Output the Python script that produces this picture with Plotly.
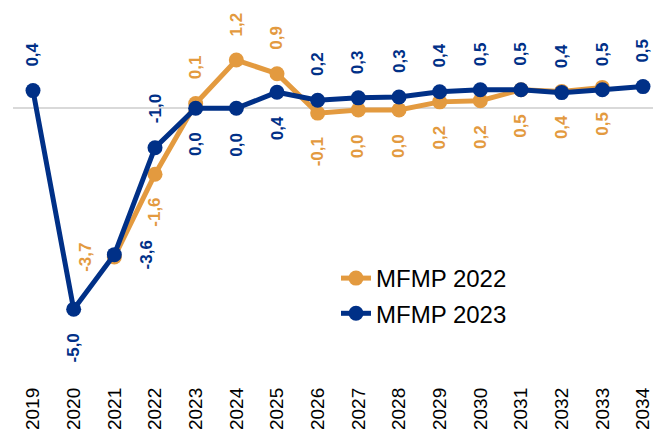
import plotly.graph_objects as go

# ---- data ----
years = [2019, 2020, 2021, 2022, 2023, 2024, 2025, 2026, 2027, 2028, 2029, 2030, 2031, 2032, 2033, 2034]
tick_labels = [str(y) for y in years]

years_2022 = [2021, 2022, 2023, 2024, 2025, 2026, 2027, 2028, 2029, 2030, 2031, 2032, 2033]
mfmp_2022 = [-3.7, -1.64, 0.12, 1.2, 0.86, -0.12, -0.04, -0.04, 0.16, 0.19, 0.46, 0.42, 0.52]

years_2023 = years
mfmp_2023 = [0.44, -5.0, -3.64, -0.98, 0.0, 0.0, 0.4, 0.2, 0.26, 0.28, 0.41, 0.46, 0.46, 0.39, 0.46, 0.54]

names = ["MFMP 2022", "MFMP 2023"]

# ---- style ----
ORANGE = "#E39A3F"
BLUE = "#003087"
FONT = "Liberation Sans, Arial, sans-serif"

pos_2022 = ["left", "below", "above", "above", "above"] + ["below"] * 8
pos_2023 = ["above", "below", "right", "above", "below", "below", "below"] + ["above"] * 9

W, H = 653, 431
ML, MR, MT, MB = 13, 0, 0, 48
PX_PER_YEAR = 610 / 15
X0_PX = 33 - ML
PX_PER_UNIT = 40.2
ZERO_PX = 108.3
PLOT_H = H - MT - MB

x_lo = 2019 - X0_PX / PX_PER_YEAR
x_hi = 2019 + (W - ML - MR - X0_PX) / PX_PER_YEAR
y_hi = ZERO_PX / PX_PER_UNIT
y_lo = -(PLOT_H - ZERO_PX) / PX_PER_UNIT


def fmt(v):
    s = f"{v:.1f}"
    if s == "-0.0":
        s = "0.0"
    return s.replace(".", ",")


fig = go.Figure()
for xs, ys, name, col in [(years_2022, mfmp_2022, names[0], ORANGE),
                          (years_2023, mfmp_2023, names[1], BLUE)]:
    fig.add_trace(go.Scatter(
        x=xs, y=ys, name=name, mode="lines+markers",
        line=dict(color=col, width=5),
        marker=dict(color=col, size=15),
        legendgroup=name,
        hoverinfo="skip",
    ))

annotations = []
for xs, ys, poss, col in [(years_2022, mfmp_2022, pos_2022, ORANGE),
                          (years_2023, mfmp_2023, pos_2023, BLUE)]:
    for x, y, p in zip(xs, ys, poss):
        a = dict(x=x, y=y, xref="x", yref="y", text=fmt(y), showarrow=False,
                 textangle=-90, font=dict(family=FONT, size=17, color=col, weight="bold"))
        if p == "above":
            a.update(yanchor="bottom", xanchor="center", yshift=22)
        elif p == "below":
            a.update(yanchor="top", xanchor="center", yshift=-22)
        elif p == "left":
            a.update(yanchor="middle", xanchor="right", xshift=-18)
        else:
            a.update(yanchor="middle", xanchor="left", xshift=21)
        annotations.append(a)

fig.update_layout(
    width=W, height=H,
    margin=dict(l=ML, r=MR, t=MT, b=MB, pad=0),
    paper_bgcolor="white", plot_bgcolor="white",
    font=dict(family=FONT, color="black"),
    showlegend=True,
    legend=dict(
        x=(336 - ML) / (W - ML - MR), y=1 - (256 - MT) / PLOT_H,
        xanchor="left", yanchor="top",
        font=dict(family=FONT, size=24, color="black"),
        bgcolor="rgba(0,0,0,0)", tracegroupgap=1,
        traceorder="grouped",
    ),
    annotations=annotations,
    xaxis=dict(
        range=[x_lo, x_hi], tickmode="array", tickvals=years, ticktext=tick_labels,
        tickangle=-90, tickfont=dict(family=FONT, size=19, color="black"),
        ticklabeloverflow="allow",
        showgrid=False, zeroline=False, showline=False, ticks="",
        fixedrange=True,
    ),
    yaxis=dict(
        range=[y_lo, y_hi], showticklabels=False, showgrid=False,
        zeroline=True, zerolinecolor="#D9D9D9", zerolinewidth=2,
        showline=False, ticks="", fixedrange=True,
    ),
)

fig.write_html("out.html", config={"displayModeBar": False},
               post_script="document.body.style.margin='0';")
